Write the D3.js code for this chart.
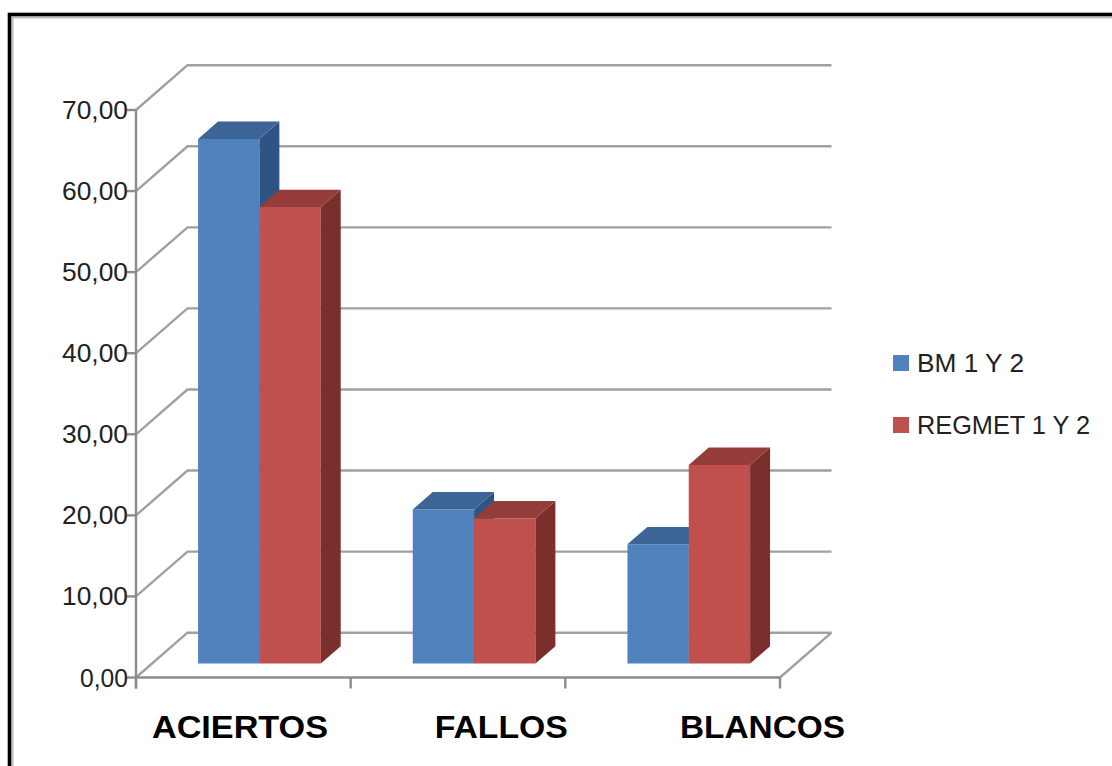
<!DOCTYPE html>
<html>
<head>
<meta charset="utf-8">
<script src="https://cdn.jsdelivr.net/npm/d3@7"></script>
<style>
  html, body { margin: 0; padding: 0; background: #fff; }
  svg { display: block; }
</style>
</head>
<body>
<svg id="chart" width="1112" height="766"></svg>
<script>
// Categories, series and values
const categories = ["ACIERTOS", "FALLOS", "BLANCOS"];
const seriesNames = ["BM 1 Y 2", "REGMET 1 Y 2"];
const bmValues = [64.7, 19.0, 14.7];
const regmetValues = [56.3, 17.9, 24.5];
const yTicks = [0, 10, 20, 30, 40, 50, 60, 70];
const yTickLabels = ["0,00", "10,00", "20,00", "30,00", "40,00", "50,00", "60,00", "70,00"];

const seriesValues = [bmValues, regmetValues];
const palette = {
  "BM 1 Y 2":     { front: "#4f81bd", top: "#3c6595", side: "#2f5483" },
  "REGMET 1 Y 2": { front: "#c0504d", top: "#943c39", side: "#7a2f2c" }
};

const svg = d3.select("#chart");

// Oblique depth of the 3-D box (front plane -> back wall)
const DX = 51.5, DY = 44.8;
const Z0 = 0.3125, Z1 = 0.70;           // depth span of the columns
const proj = (px, py, z) => [px + z * DX, py - z * DY];

const x = d3.scaleBand().domain(categories).range([136, 780])
  .paddingInner(3 / 7).paddingOuter(1.5 / 7);
const xs = d3.scaleBand().domain(seriesNames).range([0, x.bandwidth()]);
const y = d3.scaleLinear().domain([0, 70]).range([677.5, 110]);
const xLabel = d3.scalePoint().domain(categories).range([240, 762.5]);

const x0 = x.range()[0], x1 = x.range()[1];

// Outer frame
svg.append("rect").attr("x", 12.5).attr("y", 17.5).attr("width", 1200).attr("height", 900)
  .attr("fill", "none").attr("stroke", "#bdbdbd").attr("stroke-width", 2);
svg.append("rect").attr("x", 9.5).attr("y", 14.5).attr("width", 1200).attr("height", 900)
  .attr("fill", "none").attr("stroke", "#000").attr("stroke-width", 3.6);

const grid = svg.append("g").attr("fill", "none").attr("stroke", "#a0a0a0").attr("stroke-width", 2.4);

// Back wall gridlines and side wall diagonals
yTicks.forEach(t => {
  const f = [x0, y(t)];
  const b = proj(x0, y(t), 1);
  const br = proj(x1, y(t), 1);
  grid.append("path").attr("d", d3.line()([f, b, br]));
});
// Right edge of the floor
grid.append("path").attr("d", d3.line()([[x1, y(0)], proj(x1, y(0), 1)]));

// Columns
const bars = svg.append("g");
categories.forEach((c, ci) => {
  seriesNames.forEach((s, si) => {
    const v = seriesValues[si][ci];
    const l = x(c) + xs(s), r = l + xs.bandwidth();
    const yt = y(v), yb = y(0);
    const col = palette[s];
    const poly = pts => bars.append("path").attr("d", d3.line()(pts) + "Z");
    // front face
    poly([proj(l, yb, Z0), proj(r, yb, Z0), proj(r, yt, Z0), proj(l, yt, Z0)])
      .attr("fill", col.front);
    // right side face
    poly([proj(r, yb, Z0), proj(r, yb, Z1), proj(r, yt, Z1), proj(r, yt, Z0)])
      .attr("fill", col.side);
    // top face
    poly([proj(l, yt, Z0), proj(r, yt, Z0), proj(r, yt, Z1), proj(l, yt, Z1)])
      .attr("fill", col.top);
  });
});

// Axes
const axis = svg.append("g").attr("stroke", "#8c8c8c").attr("stroke-width", 2.4).attr("fill", "none");
axis.append("line").attr("x1", x0).attr("x2", x0).attr("y1", y(70)).attr("y2", y(0) + 11);
axis.append("line").attr("x1", x0).attr("x2", x1).attr("y1", y(0)).attr("y2", y(0));
yTicks.forEach(t => {
  axis.append("line").attr("x1", x0 - 9).attr("x2", x0).attr("y1", y(t)).attr("y2", y(t));
});
const catEdges = categories.map(c => x(c) - x.step() * x.paddingOuter()).concat([x1]);
catEdges.forEach(e => {
  axis.append("line").attr("x1", e).attr("x2", e).attr("y1", y(0)).attr("y2", y(0) + 11);
});

// Y tick labels
const yWidth = lab => lab.length === 4 ? 48 : 66;
svg.append("g").selectAll("text").data(yTicks).join("text")
  .attr("x", 128).attr("y", d => y(d)).attr("dy", "0.36em")
  .attr("text-anchor", "end")
  .attr("font-family", "Liberation Sans, Arial, sans-serif").attr("font-size", 25)
  .attr("fill", "#222")
  .attr("textLength", (d, i) => yWidth(yTickLabels[i]))
  .attr("lengthAdjust", "spacingAndGlyphs")
  .text((d, i) => yTickLabels[i]);

// Category labels
const catWidths = { "ACIERTOS": 176, "FALLOS": 133, "BLANCOS": 165 };
svg.append("g").selectAll("text").data(categories).join("text")
  .attr("x", d => xLabel(d)).attr("y", 738)
  .attr("text-anchor", "middle")
  .attr("font-family", "Liberation Sans, Arial, sans-serif").attr("font-weight", "bold")
  .attr("font-size", 32).attr("fill", "#000")
  .attr("textLength", d => catWidths[d]).attr("lengthAdjust", "spacingAndGlyphs")
  .text(d => d);

// Legend
const legendWidths = { "BM 1 Y 2": 107, "REGMET 1 Y 2": 173 };
const legend = svg.append("g");
seriesNames.forEach((s, i) => {
  const cy = 363 + i * 62;
  legend.append("rect").attr("x", 893).attr("y", cy - 8).attr("width", 16).attr("height", 16)
    .attr("fill", palette[s].front);
  legend.append("text").attr("x", 917).attr("y", cy).attr("dy", "0.36em")
    .attr("font-family", "Liberation Sans, Arial, sans-serif").attr("font-size", 26)
    .attr("fill", "#222")
    .attr("textLength", legendWidths[s]).attr("lengthAdjust", "spacingAndGlyphs")
    .text(s);
});
</script>
</body>
</html>
